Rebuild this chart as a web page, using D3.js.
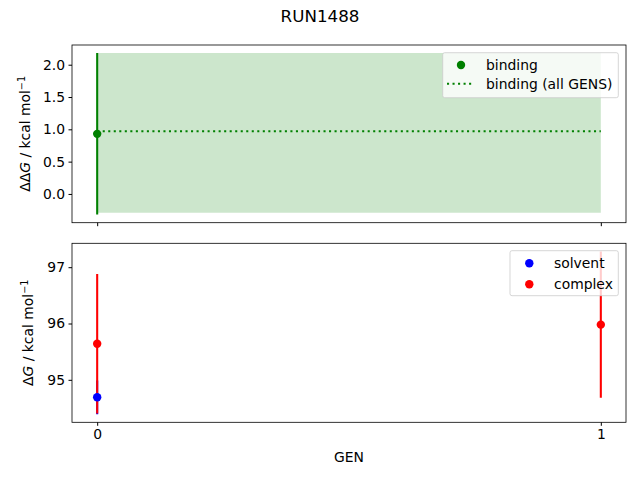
<!DOCTYPE html>
<html>
<head>
<meta charset="utf-8">
<script src="https://cdn.jsdelivr.net/npm/d3@7"></script>
<style>
  body { margin: 0; background: #fff; }
  text { font-family: "DejaVu Sans", sans-serif; fill: #000; }
</style>
</head>
<body>
<svg id="chart" width="640" height="480"></svg>
<script>
// data
var gens = [0];
var bindingDG = [0.93];
var bindingErr = [1.25];

var allGensX = [0, 1];
var allGensDG = [0.97, 0.97];
var allGensLow = [-0.29, -0.29];
var allGensHigh = [2.18, 2.18];

var solventGens = [0];
var solventDG = [94.69];
var solventErr = [0.3];

var complexGens = [0, 1];
var complexDG = [95.64, 95.98];
var complexErr = [1.24, 1.30];

var topTicks = [0.0, 0.5, 1.0, 1.5, 2.0];
var bottomTicks = [95, 96, 97];
var genTicks = [0, 1];

var svg = d3.select("#chart");
var left = 72, right = 626;
var lw = 2.08, dots = "2.08,3.44";

svg.append("text").attr("x", 320).attr("y", 22).attr("text-anchor", "middle")
    .style("font-size", "16.7px").text("RUN1488");

var x = d3.scaleLinear().domain([-0.05, 1.05]).range([left, right]);

// pads like matplotlib autoscale
function padded(lo, hi) {
    var r = hi - lo;
    return [lo - 0.05 * r, hi + 0.05 * r];
}

// --- top panel
var topY0 = 45, topY1 = 222.7;
var lowT = d3.min([d3.min(bindingDG.map((d, i) => d - bindingErr[i])), d3.min(allGensLow)]);
var highT = d3.max([d3.max(bindingDG.map((d, i) => d + bindingErr[i])), d3.max(allGensHigh)]);
var yTop = d3.scaleLinear().domain(padded(lowT, highT)).range([topY1, topY0]);

var gTop = svg.append("g");
svg.append("clipPath").attr("id", "clipTop").append("rect")
    .attr("x", left).attr("y", topY0).attr("width", right - left).attr("height", topY1 - topY0);
var topPlot = gTop.append("g").attr("clip-path", "url(#clipTop)");

topPlot.append("path")
    .datum(allGensX.map((d, i) => [d, allGensLow[i], allGensHigh[i]]))
    .attr("fill", "#008000").attr("fill-opacity", 0.2)
    .attr("d", d3.area().x(d => x(d[0])).y0(d => yTop(d[1])).y1(d => yTop(d[2])));

topPlot.selectAll(".berr").data(gens).enter().append("line")
    .attr("x1", d => x(d)).attr("x2", d => x(d))
    .attr("y1", (d, i) => yTop(bindingDG[i] - bindingErr[i]))
    .attr("y2", (d, i) => yTop(bindingDG[i] + bindingErr[i]))
    .attr("stroke", "#008000").attr("stroke-width", lw);

topPlot.append("path")
    .datum(allGensX.map((d, i) => [d, allGensDG[i]]))
    .attr("fill", "none").attr("stroke", "#008000").attr("stroke-width", lw)
    .attr("stroke-dasharray", dots)
    .attr("d", d3.line().x(d => x(d[0])).y(d => yTop(d[1])));

topPlot.selectAll(".bpt").data(gens).enter().append("circle")
    .attr("cx", d => x(d)).attr("cy", (d, i) => yTop(bindingDG[i]))
    .attr("r", 4.2).attr("fill", "#008000");

gTop.append("g").attr("transform", "translate(" + left + ",0)")
    .call(d3.axisLeft(yTop).tickValues(topTicks).tickFormat(d3.format(".1f")).tickSizeOuter(0).tickSize(3.5).tickPadding(3.5))
    .call(g => g.select(".domain").remove())
    .selectAll("text").style("font-size", "13.9px").style("font-family", "DejaVu Sans");
gTop.append("g").attr("transform", "translate(0," + topY1 + ")")
    .call(d3.axisBottom(x).tickValues(genTicks).tickFormat("").tickSizeOuter(0).tickSize(3.5))
    .call(g => g.select(".domain").remove());
gTop.append("rect").attr("x", left).attr("y", topY0).attr("width", right - left).attr("height", topY1 - topY0)
    .attr("fill", "none").attr("stroke", "#000").attr("stroke-width", 0.8);

var yl1 = gTop.append("text").attr("transform", "translate(30," + ((topY0 + topY1) / 2) + ") rotate(-90)")
    .attr("text-anchor", "middle").style("font-size", "13.9px");
yl1.append("tspan").text("ΔΔ");
yl1.append("tspan").style("font-style", "italic").text("G");
yl1.append("tspan").text(" / kcal mol");
yl1.append("tspan").attr("dy", -5).style("font-size", "9.7px").text("−1");

// legend top
var lt = svg.append("g");
lt.append("rect").attr("x", 442.7).attr("y", 52.7).attr("width", 175.6).attr("height", 45)
    .attr("rx", 2).attr("fill", "#fff").attr("fill-opacity", 0.8).attr("stroke", "#ccc").attr("stroke-opacity", 0.8);
lt.append("circle").attr("cx", 461).attr("cy", 65).attr("r", 4.2).attr("fill", "#008000");
lt.append("text").attr("x", 486).attr("y", 69.5).style("font-size", "13.9px").text("binding");
lt.append("line").attr("x1", 447).attr("x2", 472).attr("y1", 83.7).attr("y2", 83.7)
    .attr("stroke", "#008000").attr("stroke-width", lw).attr("stroke-dasharray", dots);
lt.append("text").attr("x", 486).attr("y", 89).style("font-size", "13.9px").text("binding (all GENS)");

// --- bottom panel
var botY0 = 243.3, botY1 = 422.3;
var lowB = d3.min(solventDG.map((d, i) => d - solventErr[i]).concat(complexDG.map((d, i) => d - complexErr[i])));
var highB = d3.max(solventDG.map((d, i) => d + solventErr[i]).concat(complexDG.map((d, i) => d + complexErr[i])));
var yBot = d3.scaleLinear().domain(padded(lowB, highB)).range([botY1, botY0]);

var gBot = svg.append("g");
svg.append("clipPath").attr("id", "clipBot").append("rect")
    .attr("x", left).attr("y", botY0).attr("width", right - left).attr("height", botY1 - botY0);
var botPlot = gBot.append("g").attr("clip-path", "url(#clipBot)");

function errLines(xs, vals, errs, color) {
    botPlot.selectAll(null).data(xs).enter().append("line")
        .attr("x1", d => x(d)).attr("x2", d => x(d))
        .attr("y1", (d, i) => yBot(vals[i] - errs[i]))
        .attr("y2", (d, i) => yBot(vals[i] + errs[i]))
        .attr("stroke", color).attr("stroke-width", lw);
}
function points(xs, vals, color) {
    botPlot.selectAll(null).data(xs).enter().append("circle")
        .attr("cx", d => x(d)).attr("cy", (d, i) => yBot(vals[i]))
        .attr("r", 4.2).attr("fill", color);
}
errLines(solventGens, solventDG, solventErr, "#0000ff");
errLines(complexGens, complexDG, complexErr, "#ff0000");
points(solventGens, solventDG, "#0000ff");
points(complexGens, complexDG, "#ff0000");

gBot.append("g").attr("transform", "translate(" + left + ",0)")
    .call(d3.axisLeft(yBot).tickValues(bottomTicks).tickFormat(d3.format("d")).tickSizeOuter(0).tickSize(3.5).tickPadding(3.5))
    .call(g => g.select(".domain").remove())
    .selectAll("text").style("font-size", "13.9px").style("font-family", "DejaVu Sans");
gBot.append("g").attr("transform", "translate(0," + botY1 + ")")
    .call(d3.axisBottom(x).tickValues(genTicks).tickFormat(d3.format("d")).tickSizeOuter(0).tickSize(3.5).tickPadding(3.5))
    .call(g => g.select(".domain").remove())
    .selectAll("text").style("font-size", "13.9px").style("font-family", "DejaVu Sans");
gBot.append("rect").attr("x", left).attr("y", botY0).attr("width", right - left).attr("height", botY1 - botY0)
    .attr("fill", "none").attr("stroke", "#000").attr("stroke-width", 0.8);

gBot.append("text").attr("x", (left + right) / 2).attr("y", 462).attr("text-anchor", "middle")
    .style("font-size", "13.9px").text("GEN");

var yl2 = gBot.append("text").attr("transform", "translate(33," + ((botY0 + botY1) / 2) + ") rotate(-90)")
    .attr("text-anchor", "middle").style("font-size", "13.9px");
yl2.append("tspan").text("Δ");
yl2.append("tspan").style("font-style", "italic").text("G");
yl2.append("tspan").text(" / kcal mol");
yl2.append("tspan").attr("dy", -5).style("font-size", "9.7px").text("−1");

// legend bottom
var lb = svg.append("g");
lb.append("rect").attr("x", 510).attr("y", 250.7).attr("width", 108.3).attr("height", 45)
    .attr("rx", 2).attr("fill", "#fff").attr("fill-opacity", 0.8).attr("stroke", "#ccc").attr("stroke-opacity", 0.8);
lb.append("circle").attr("cx", 529.3).attr("cy", 263.3).attr("r", 4.2).attr("fill", "#0000ff");
lb.append("text").attr("x", 554).attr("y", 268).style("font-size", "13.9px").text("solvent");
lb.append("circle").attr("cx", 529.3).attr("cy", 284.3).attr("r", 4.2).attr("fill", "#ff0000");
lb.append("text").attr("x", 554).attr("y", 289).style("font-size", "13.9px").text("complex");
</script>
</body>
</html>
